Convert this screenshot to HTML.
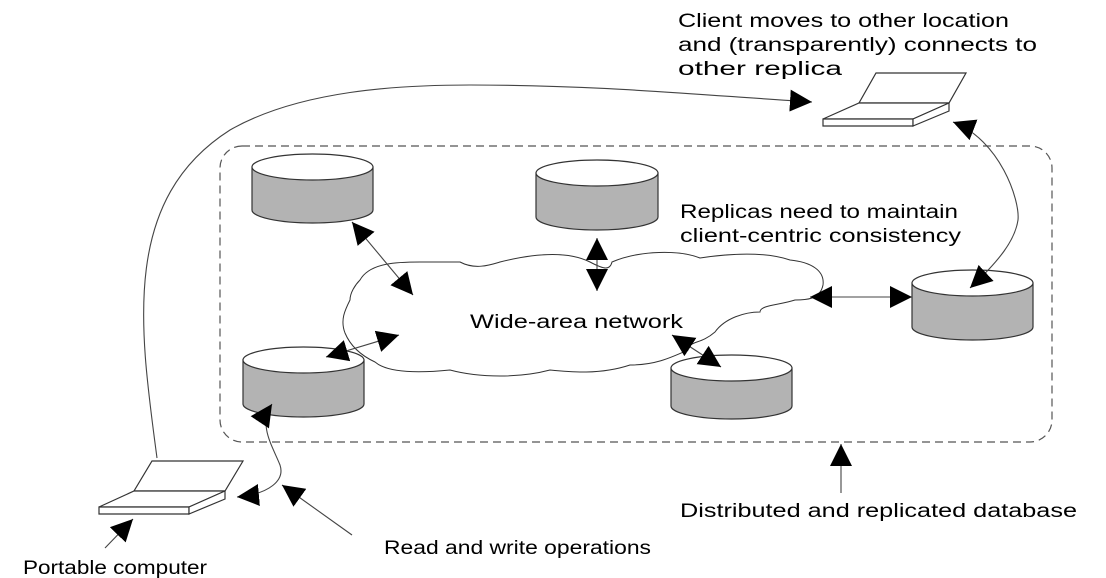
<!DOCTYPE html>
<html><head><meta charset="utf-8"><style>
html,body{margin:0;padding:0;background:#fff}
svg{display:block}
text{font-family:"Liberation Sans",sans-serif;font-size:19px;fill:#000}
</style></head><body>
<svg width="1106" height="578" viewBox="0 0 1106 578" xmlns="http://www.w3.org/2000/svg">
<defs>
<marker id="a" viewBox="0 0 10 10" refX="10" refY="5" markerWidth="22" markerHeight="22" markerUnits="userSpaceOnUse" orient="auto-start-reverse">
<path d="M0,0 L10,5 L0,10 z" fill="#000"/></marker>
</defs>
<g fill="none" stroke="#555" stroke-width="1.2">
<rect x="220" y="146" width="832" height="296" rx="22" stroke-dasharray="8,5"/>
</g>
<path d="M360,280 C370,262 400,262 420,262 L460,262 C475,270 490,265 500,262 C540,252 570,252 590,262 C605,270 610,270 612,262 C640,250 680,250 700,258 C720,255 760,250 790,260 C810,262 825,270 823,285 C820,300 805,300 795,300 C780,305 760,305 760,312 C745,312 725,318 715,332 C700,345 690,340 688,350 C670,358 655,365 630,365 C600,375 570,372 550,370 C520,378 480,378 450,370 C430,372 390,375 375,362 C360,355 350,345 345,333 C340,320 345,310 350,300 C350,293 355,285 360,280 Z" fill="#fff" stroke="#333" stroke-width="1"/>
<g stroke="#333" stroke-width="1.2">
<path d="M252,167 L252,210 A60.5,13 0 0 0 373,210 L373,167 Z" fill="#b3b3b3"/><ellipse cx="312.5" cy="167" rx="60.5" ry="13" fill="#fff"/>
<path d="M536,173 L536,217 A61,13 0 0 0 658,217 L658,173 Z" fill="#b3b3b3"/><ellipse cx="597" cy="173" rx="61" ry="13" fill="#fff"/>
<path d="M912,283 L912,327 A60.5,13 0 0 0 1033,327 L1033,283 Z" fill="#b3b3b3"/><ellipse cx="972.5" cy="283" rx="60.5" ry="13" fill="#fff"/>
<path d="M243,360 L243,404 A60.5,13 0 0 0 364,404 L364,360 Z" fill="#b3b3b3"/><ellipse cx="303.5" cy="360" rx="60.5" ry="13" fill="#fff"/>
<path d="M671,368 L671,406 A60.5,13 0 0 0 792,406 L792,368 Z" fill="#b3b3b3"/><ellipse cx="731.5" cy="368" rx="60.5" ry="13" fill="#fff"/>
</g>
<g fill="#fff" stroke="#333" stroke-width="1.2">
<path d="M876,73 L966,73 L949,103 L859,103 Z"/>
<path d="M859,103 L949,103 L913,119 L823,119 Z"/>
<path d="M823,119 L913,119 L913,126 L823,126 Z"/>
<path d="M913,119 L949,103 L949,111 L913,126 Z"/>
<path d="M152,461 L243,461 L225,491 L134,491 Z"/>
<path d="M134,491 L225,491 L189,507 L99,507 Z"/>
<path d="M99,507 L189,507 L189,514 L99,514 Z"/>
<path d="M189,507 L225,491 L225,499 L189,514 Z"/>
</g>
<g fill="none" stroke="#444" stroke-width="1.1">
<path d="M157,458 C140,330 120,200 230,130 C300,90 400,85 470,85 C600,85 700,95 812,102" marker-end="url(#a)"/>
<path d="M352,222 L413,295" marker-start="url(#a)" marker-end="url(#a)"/>
<path d="M597,238 L597,291" marker-start="url(#a)" marker-end="url(#a)"/>
<path d="M810,297 L912,297" marker-start="url(#a)" marker-end="url(#a)"/>
<path d="M326,357 L399,335" marker-start="url(#a)" marker-end="url(#a)"/>
<path d="M672,335 L721,367" marker-start="url(#a)" marker-end="url(#a)"/>
<path d="M953,122 C1000,140 1020,200 1018,220 C1015,240 1000,260 970,288" marker-start="url(#a)" marker-end="url(#a)"/>
<path d="M272,404 C258,425 272,445 280,465 C285,480 270,494 237,497" marker-start="url(#a)" marker-end="url(#a)"/>
<path d="M352,535 L282,485" marker-end="url(#a)"/>
<path d="M105,548 L133,519" marker-end="url(#a)"/>
<path d="M841,493 L841,444" marker-end="url(#a)"/>
</g>
<text x="678" y="27" textLength="331" lengthAdjust="spacingAndGlyphs">Client moves to other location</text>
<text x="678" y="51" textLength="359" lengthAdjust="spacingAndGlyphs">and (transparently) connects to</text>
<text x="678" y="75" textLength="164" lengthAdjust="spacingAndGlyphs">other replica</text>
<text x="680" y="218" textLength="278" lengthAdjust="spacingAndGlyphs">Replicas need to maintain</text>
<text x="680" y="242" textLength="281" lengthAdjust="spacingAndGlyphs">client-centric consistency</text>
<text x="470" y="328" textLength="213" lengthAdjust="spacingAndGlyphs">Wide-area network</text>
<text x="680" y="517" textLength="397" lengthAdjust="spacingAndGlyphs">Distributed and replicated database</text>
<text x="384" y="554" textLength="267" lengthAdjust="spacingAndGlyphs">Read and write operations</text>
<text x="23" y="574" textLength="184" lengthAdjust="spacingAndGlyphs">Portable computer</text>
</svg>
</body></html>
